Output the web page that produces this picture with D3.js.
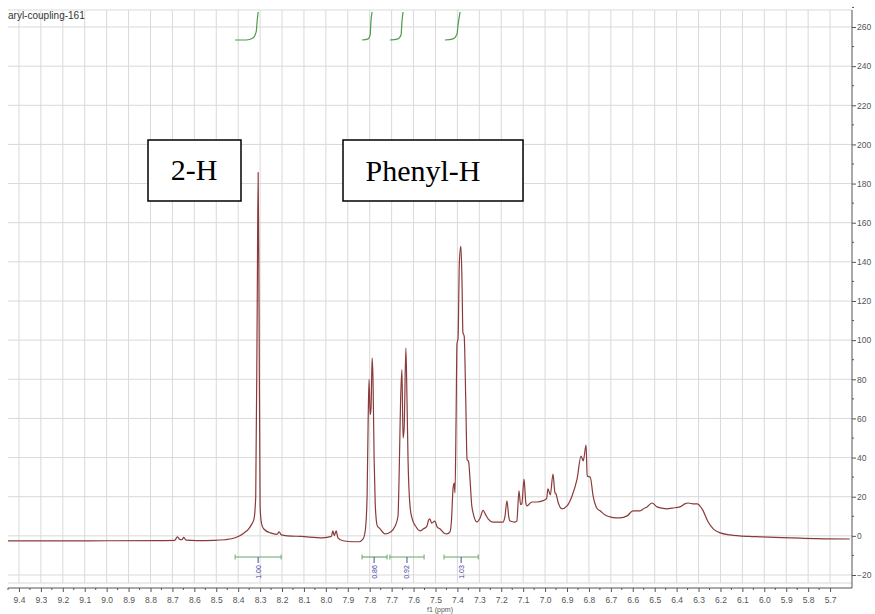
<!DOCTYPE html>
<html>
<head>
<meta charset="utf-8">
<script src="https://cdn.jsdelivr.net/npm/d3@7"></script>
<style>
  body { margin: 0; background: #fff; }
  svg { display: block; }
</style>
</head>
<body>
<script>
// spectrum (ppm, intensity)
const title = "aryl-coupling-161";

const shiftPpm = [
  9.45, 9.30, 9.00, 8.76, 8.69, 8.677, 8.667, 8.657, 8.648, 8.638, 8.59, 8.51, 8.46,
  8.413, 8.373, 8.353, 8.338, 8.328, 8.320, 8.313, 8.309, 8.305, 8.300, 8.293, 8.283,
  8.253, 8.223, 8.213, 8.203, 8.173, 8.113, 8.015, 7.975, 7.968, 7.962, 7.953, 7.945,
  7.922, 7.875, 7.850, 7.830, 7.820, 7.812, 7.807, 7.803, 7.798, 7.794, 7.789, 7.785,
  7.780, 7.775, 7.770, 7.765, 7.753, 7.730, 7.705, 7.684, 7.671, 7.666, 7.659, 7.653,
  7.648, 7.643, 7.635, 7.630, 7.625, 7.616, 7.607, 7.591, 7.570, 7.556, 7.539, 7.532,
  7.526, 7.517, 7.503, 7.492, 7.480, 7.462, 7.448, 7.434, 7.427, 7.420, 7.415, 7.411,
  7.406, 7.402, 7.397, 7.391, 7.384, 7.379, 7.375, 7.369, 7.362, 7.356, 7.349, 7.343,
  7.335, 7.329, 7.311, 7.297, 7.283, 7.272, 7.260, 7.237, 7.220, 7.193, 7.183, 7.174,
  7.166, 7.161, 7.138, 7.129, 7.119, 7.112, 7.106, 7.096, 7.088, 7.083, 7.060, 7.037,
  7.009, 6.993, 6.987, 6.976, 6.964, 6.955, 6.950, 6.941, 6.923, 6.900, 6.877, 6.854,
  6.836, 6.826, 6.813, 6.808, 6.794, 6.781, 6.763, 6.749, 6.724, 6.704, 6.679, 6.658,
  6.626, 6.599, 6.567, 6.549, 6.535, 6.512, 6.489, 6.469, 6.444, 6.420, 6.385, 6.360,
  6.348, 6.320, 6.307, 6.284, 6.256, 6.233, 6.201, 6.156, 6.07, 6.019, 5.92, 5.836,
  5.72, 5.61
];
const intensity = [
  -2.6, -2.6, -2.5, -2.4, -2.3, -0.5, -1.8, -2.0, -0.8, -2.2, -2.4, -2.3, -2.0,
  -1.0, 1.5, 3.5, 6.0, 8.5, 20, 120, 185.7, 120, 15, 6, 3.5,
  1.5, 0.8, 2.0, 0.5, 0, -0.3, -1.0, -0.3, 2.5, 0.2, 2.5, -1,
  -2.5, -3.0, -3.0, -1.5, 3, 20, 60, 80, 62, 65, 91, 80,
  40, 17, 8, 5, 3.6, 1.0, 2.0, 5, 10, 30, 70, 85,
  50, 55, 96, 70, 38, 15, 9, 5, 2.5, 3.5, 5, 8,
  8.7, 6.5, 7.5, 4.5, 3.6, 1.5, 1.0, 2.0, 8, 24, 27, 22,
  60, 98, 101, 140, 148, 130, 104, 102, 70, 39, 38, 30,
  16, 12, 7.1, 9, 13, 11, 8.7, 7, 7, 7, 10, 17.9,
  10, 7.7, 7, 7.5, 23, 16, 16.5, 29, 17, 15.3, 17.3, 17.3,
  18, 19, 24, 21, 31.6, 22, 21.4, 17.3, 13.8, 15.3, 20.4, 29.1,
  40.8, 38.3, 46.4, 30.6, 30, 20.4, 14, 12.8, 10.5, 9.7, 9.2, 9.2,
  10.2, 12.8, 12.8, 14, 14.8, 16.8, 14.8, 14.2, 13.8, 14.2, 14.8, 16.5,
  16.8, 16.3, 16.3, 13.8, 7.1, 3.6, 1.5, 0.5, -0.3, -0.5, -0.9, -1.2,
  -1.5, -1.6
];

const xTickValues = [9.4, 9.3, 9.2, 9.1, 9.0, 8.9, 8.8, 8.7, 8.6, 8.5, 8.4, 8.3, 8.2, 8.1,
  8.0, 7.9, 7.8, 7.7, 7.6, 7.5, 7.4, 7.3, 7.2, 7.1, 7.0, 6.9, 6.8, 6.7, 6.6, 6.5, 6.4,
  6.3, 6.2, 6.1, 6.0, 5.9, 5.8, 5.7];
const yTickValues = [-20, 0, 20, 40, 60, 80, 100, 120, 140, 160, 180, 200, 220, 240, 260];

// integrals
const integralLabels = ["1.00", "0.86", "0.92", "1.03"];
const integralFrom = [8.414, 7.835, 7.708, 7.461];
const integralTo = [8.204, 7.721, 7.552, 7.305];
const integralMark = [8.309, 7.780, 7.630, 7.383];
const integralCurvePpm = [
  [8.414, 8.363, 8.333, 8.318, 8.313, 8.309],
  [7.835, 7.807, 7.798, 7.794, 7.789],
  [7.708, 7.671, 7.657, 7.653, 7.648],
  [7.457, 7.420, 7.402, 7.397, 7.388]
];
const integralCurveVal = [
  [0, 0, 0.07, 0.29, 0.71, 1],
  [0, 0.04, 0.18, 0.71, 1],
  [0, 0.04, 0.18, 0.64, 1],
  [0, 0.04, 0.21, 0.54, 1]
];

const annotations = ["2-H", "Phenyl-H"];

const width = 875, height = 614;
const plotTop = 10, plotBottom = 583, axisY = 588;

const svg = d3.select("body").append("svg")
  .attr("width", width)
  .attr("height", height)
  .style("background", "#fff");

const x = d3.scaleLinear().domain([9.45, 5.6]).range([8, 852]);
const y = d3.scaleLinear().domain([-20, 260]).range([575, 27]);
const yInt = d3.scaleLinear().domain([0, 1]).range([40, 12]);

const gridColor = "#d9d9d9";

// grid
svg.append("g")
  .selectAll("line")
  .data(xTickValues)
  .join("line")
  .attr("x1", d => x(d)).attr("x2", d => x(d))
  .attr("y1", plotTop).attr("y2", plotBottom)
  .attr("stroke", gridColor).attr("stroke-width", 1);

svg.append("g")
  .selectAll("line")
  .data(yTickValues)
  .join("line")
  .attr("x1", 8).attr("x2", 852)
  .attr("y1", d => y(d)).attr("y2", d => y(d))
  .attr("stroke", gridColor).attr("stroke-width", 1);

svg.append("line")
  .attr("x1", 8).attr("x2", 852).attr("y1", plotTop).attr("y2", plotTop)
  .attr("stroke", gridColor);
svg.append("line")
  .attr("x1", 8).attr("x2", 852).attr("y1", plotBottom).attr("y2", plotBottom)
  .attr("stroke", gridColor);

// title
svg.append("text")
  .attr("x", 8).attr("y", 19)
  .style("font-family", "'Liberation Sans', Arial, sans-serif")
  .style("font-size", "10px")
  .style("fill", "#333")
  .text(title);

// right axis
const yAxis = d3.axisRight(y).tickValues(yTickValues).tickSize(4).tickPadding(1);
const gY = svg.append("g")
  .attr("transform", "translate(852,0)")
  .call(yAxis);
gY.select(".domain").remove();
gY.selectAll("line").attr("stroke", "#555");
gY.selectAll("text")
  .style("font-family", "'Liberation Sans', Arial, sans-serif")
  .style("font-size", "8.5px")
  .style("fill", "#555");
gY.append("g")
  .selectAll("line")
  .data(yTickValues.map(d => d + 10))
  .join("line")
  .attr("x1", 0).attr("x2", 2)
  .attr("y1", d => y(d)).attr("y2", d => y(d))
  .attr("stroke", "#555");
svg.append("line")
  .attr("x1", 852).attr("x2", 852).attr("y1", plotTop).attr("y2", axisY)
  .attr("stroke", "#555").attr("stroke-width", 1);

// bottom axis
const xAxis = d3.axisBottom(x).tickValues(xTickValues).tickFormat(d3.format(".1f"))
  .tickSize(4).tickPadding(5);
const gX = svg.append("g")
  .attr("transform", `translate(0,${axisY})`)
  .call(xAxis);
gX.select(".domain").remove();
gX.selectAll("line").attr("stroke", "#555");
gX.selectAll("text")
  .style("font-family", "'Liberation Sans', Arial, sans-serif")
  .style("font-size", "8.5px")
  .style("fill", "#555");
gX.append("g")
  .selectAll("line")
  .data(xTickValues.map(d => d + 0.05))
  .join("line")
  .attr("x1", d => x(d)).attr("x2", d => x(d))
  .attr("y1", 0).attr("y2", 2)
  .attr("stroke", "#555");
svg.append("line")
  .attr("x1", 8).attr("x2", 852).attr("y1", axisY).attr("y2", axisY)
  .attr("stroke", "#555");
svg.append("text")
  .attr("x", 440).attr("y", 612)
  .attr("text-anchor", "middle")
  .style("font-family", "'Liberation Sans', Arial, sans-serif")
  .style("font-size", "7px")
  .style("fill", "#555")
  .text("f1 (ppm)");

// spectrum
const spectrum = shiftPpm.map((p, i) => ({ p, v: intensity[i] }));
const line = d3.line()
  .x(d => x(d.p))
  .y(d => y(d.v))
  .curve(d3.curveMonotoneX);

svg.append("path")
  .datum(spectrum)
  .attr("d", line)
  .attr("fill", "none")
  .attr("stroke", "#8a3a3a")
  .attr("stroke-width", 1.2)
  .attr("stroke-linejoin", "round");

// integral curves on top
const intLine = d3.line()
  .x(d => x(d.p))
  .y(d => yInt(d.v))
  .curve(d3.curveMonotoneX);
integralCurvePpm.forEach((ps, k) => {
  svg.append("path")
    .datum(ps.map((p, i) => ({ p, v: integralCurveVal[k][i] })))
    .attr("d", intLine)
    .attr("fill", "none")
    .attr("stroke", "#4c9a4c")
    .attr("stroke-width", 1.2);
});

// integration bars under the peaks
const barY = 557;
const gInt = svg.append("g");
integralLabels.forEach((lab, k) => {
  const x0 = x(integralFrom[k]), x1 = x(integralTo[k]), xm = x(integralMark[k]);
  gInt.append("line")
    .attr("x1", x0).attr("x2", x1).attr("y1", barY).attr("y2", barY)
    .attr("stroke", "#6aa86a").attr("stroke-width", 1.2);
  [x0, x1].forEach(xx => {
    gInt.append("line")
      .attr("x1", xx).attr("x2", xx).attr("y1", barY - 2.5).attr("y2", barY + 2.5)
      .attr("stroke", "#6aa86a").attr("stroke-width", 1);
  });
  gInt.append("line")
    .attr("x1", xm).attr("x2", xm).attr("y1", barY).attr("y2", barY + 6)
    .attr("stroke", "#4a4a9a").attr("stroke-width", 1);
  gInt.append("text")
    .attr("transform", `translate(${xm + 2.5},${barY + 15}) rotate(-90)`)
    .attr("text-anchor", "middle")
    .style("font-family", "'Liberation Sans', Arial, sans-serif")
    .style("font-size", "7px")
    .style("fill", "#3c3c9c")
    .text(lab);
});

// annotation boxes
const boxes = [
  { x: 148, y: 140, w: 93, h: 61, tx: 194, ty: 180 },
  { x: 343, y: 140, w: 180, h: 61, tx: 423, ty: 181 }
];
boxes.forEach((b, i) => {
  svg.append("rect")
    .attr("x", b.x).attr("y", b.y).attr("width", b.w).attr("height", b.h)
    .attr("fill", "#fff").attr("stroke", "#000").attr("stroke-width", 1.5);
  svg.append("text")
    .attr("x", b.tx).attr("y", b.ty)
    .attr("text-anchor", "middle")
    .style("font-family", "'Liberation Serif', 'Times New Roman', serif")
    .style("font-size", "30px")
    .style("fill", "#000")
    .text(annotations[i]);
});
</script>
</body>
</html>
